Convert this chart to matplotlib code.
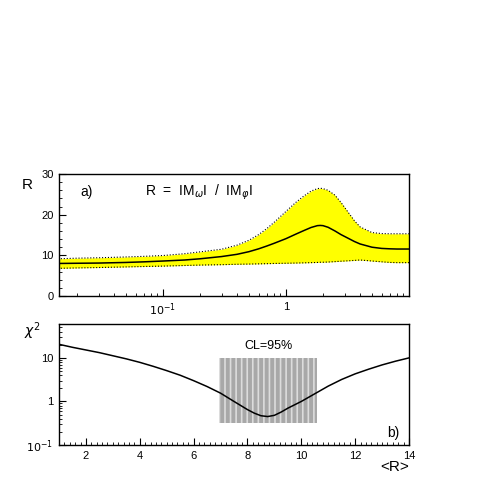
import matplotlib
matplotlib.use('Agg')
import matplotlib.pyplot as plt
from matplotlib.patches import Rectangle
from matplotlib.ticker import MultipleLocator, LogLocator, FixedLocator, FixedFormatter, NullFormatter

plt.rcParams['font.family'] = ['Liberation Sans', 'DejaVu Sans']
plt.rcParams['hatch.linewidth'] = 1.2

# panel a) : R versus epsilon (GeV)
eps = [0.014, 0.02, 0.03, 0.05, 0.07, 0.1, 0.15, 0.2, 0.3, 0.4, 0.5, 0.6, 0.7,
       0.8, 1.0, 1.2, 1.4, 1.6, 1.8, 1.9, 2.0, 2.2, 2.5, 2.8, 3.2, 3.6, 4.0,
       5.0, 6.0, 7.0, 8.0, 10.0]
r_mid = [8.0, 8.05, 8.1, 8.25, 8.4, 8.6, 8.85, 9.15, 9.7, 10.25, 10.9, 11.6, 12.3,
         12.95, 14.1, 15.2, 16.1, 16.85, 17.3, 17.35, 17.3, 16.9, 16.0, 15.1, 14.2,
         13.4, 12.8, 12.0, 11.7, 11.6, 11.55, 11.55]
r_up = [9.15, 9.3, 9.4, 9.6, 9.75, 9.95, 10.4, 10.85, 11.5, 12.5, 13.7, 15.1, 16.6,
        18.1, 20.8, 23.0, 24.6, 25.8, 26.4, 26.5, 26.4, 26.0, 24.8, 23.0, 20.6,
        18.5, 17.0, 15.6, 15.35, 15.3, 15.3, 15.3]
r_lo = [6.8, 6.9, 7.0, 7.15, 7.25, 7.35, 7.5, 7.6, 7.7, 7.8, 7.85, 7.9, 7.95,
        8.0, 8.05, 8.1, 8.15, 8.2, 8.25, 8.3, 8.3, 8.35, 8.45, 8.55, 8.65,
        8.75, 8.85, 8.6, 8.4, 8.25, 8.2, 8.2]

# panel b) : chi2 versus <R>
r_avg = [1, 1.5, 2, 2.5, 3, 3.5, 4, 4.5, 5, 5.5, 6, 6.5, 7, 7.5, 8, 8.25, 8.5,
         8.75, 9, 9.25, 9.5, 10, 10.5, 11, 11.5, 12, 12.5, 13, 13.5, 14]
chi2 = [20.5, 17.5, 15.2, 13.2, 11.2, 9.5, 7.9, 6.4, 5.1, 4.0, 3.0, 2.2, 1.55,
        1.0, 0.65, 0.54, 0.47, 0.45, 0.48, 0.57, 0.7, 1.0, 1.5, 2.25, 3.2,
        4.3, 5.5, 6.9, 8.4, 10.0]
cl_range = [6.95, 10.58]
cl_chi2 = [0.32, 10.0]

fig = plt.figure(figsize=(4.91, 4.91), dpi=100)
W, H = 491.0, 491.0
ax1 = fig.add_axes([59 / W, 1 - 296 / H, 350 / W, 122 / H])
ax2 = fig.add_axes([59 / W, 1 - 445 / H, 350 / W, 121 / H])

# --- panel a
ax1.fill_between(eps, r_lo, r_up, color='#ffff00', lw=0)
ax1.plot(eps, r_up, color='black', ls=':', lw=0.8)
ax1.plot(eps, r_lo, color='black', ls=':', lw=0.8)
ax1.plot(eps, r_mid, color='black', lw=1.1)
ax1.set_xscale('log')
ax1.set_xlim(0.0143, 10)
ax1.set_ylim(0, 30)
ax1.yaxis.set_major_locator(MultipleLocator(10))
ax1.yaxis.set_minor_locator(MultipleLocator(2))
ax1.xaxis.set_major_locator(FixedLocator([0.1, 1]))
ax1.xaxis.set_major_formatter(FixedFormatter(['$10^{-1}$', '1']))
ax1.xaxis.set_minor_locator(LogLocator(base=10, subs=range(2, 10)))
ax1.xaxis.set_minor_formatter(NullFormatter())
ax1.text(-0.09, 0.88, 'R', transform=ax1.transAxes, fontsize=11, ha='center')
ax1.text(0.06, 0.82, 'a)', transform=ax1.transAxes, fontsize=10)
ax1.text(0.245, 0.82, r'R  =  IM$_\omega$I  /  IM$_\varphi$I', transform=ax1.transAxes, fontsize=10)
ax1.text(1.0, -0.22, r'$\varepsilon$ (GeV)', transform=ax1.transAxes, fontsize=11, ha='right', va='top')

# --- panel b
ax2.add_patch(Rectangle((cl_range[0], cl_chi2[0]), cl_range[1] - cl_range[0],
                        cl_chi2[1] - cl_chi2[0], facecolor='#a8a8a8',
                        edgecolor='#dcdcdc', hatch='|||', lw=0))
ax2.plot(r_avg, chi2, color='black', lw=1.1)
ax2.set_yscale('log')
ax2.set_xlim(1, 14)
ax2.set_ylim(0.1, 60)
ax2.xaxis.set_major_locator(MultipleLocator(2))
ax2.xaxis.set_minor_locator(MultipleLocator(0.2))
ax2.yaxis.set_major_locator(FixedLocator([0.1, 1, 10]))
ax2.yaxis.set_major_formatter(FixedFormatter(['$10^{-1}$', '1', '10']))
ax2.yaxis.set_minor_locator(LogLocator(base=10, subs=range(2, 10)))
ax2.yaxis.set_minor_formatter(NullFormatter())
ax2.text(sum(cl_range) / 2, 14, 'CL=95%', fontsize=9, ha='center', va='bottom')
ax2.text(0.955, 0.07, 'b)', transform=ax2.transAxes, fontsize=10, ha='center')
ax2.text(-0.075, 0.9, r'$\chi^2$', transform=ax2.transAxes, fontsize=10, ha='center')
ax2.text(1.0, -0.12, '<R>', transform=ax2.transAxes, fontsize=11, ha='right', va='top')

for ax in (ax1, ax2):
    ax.tick_params(which='both', direction='in', top=False, right=False, labelsize=8, pad=4)
    ax.tick_params(which='major', length=5)
    ax.tick_params(which='minor', length=2.5)
    for s in ax.spines.values():
        s.set_linewidth(1.0)

fig.savefig('out.png', dpi=100)
